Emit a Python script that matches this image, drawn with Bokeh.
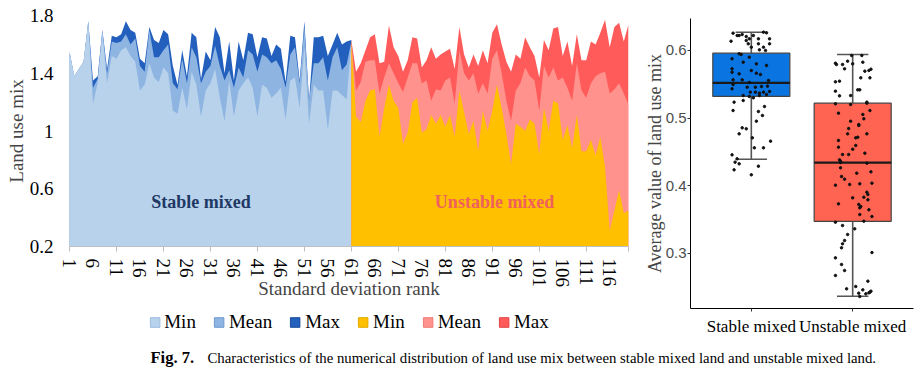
from bokeh.plotting import figure
from bokeh.layouts import row, column
from bokeh.models import FixedTicker, Legend, LegendItem, Label, Range1d
from bokeh.embed import file_html
from bokeh.resources import INLINE

SERIF = "Liberation Serif"
SANS = "Liberation Sans"
NAN = float("nan")

# ---------------- data: left area chart ----------------
rank = list(range(1, 121))
tick_ranks = list(range(1, 117, 5))

stable_max = [1.55, 1.38, 1.43, 1.48, 1.76, 1.35, 1.38, 1.70, 1.43, 1.66,
              1.65, 1.67, 1.76, 1.70, 1.68, 1.50, 1.47, 1.72, 1.63, 1.61,
              1.70, 1.67, 1.45, 1.32, 1.56, 1.38, 1.68, 1.65, 1.36, 1.55,
              1.49, 1.72, 1.65, 1.40, 1.62, 1.35, 1.62, 1.49, 1.68, 1.67,
              1.51, 1.65, 1.64, 1.52, 1.60, 1.57, 1.34, 1.66, 1.65, 1.35,
              1.76, 1.21, 1.65, 1.65, 1.66, 1.52, 1.60, 1.68, 1.60, 1.62]
stable_mean = [1.55, 1.38, 1.43, 1.48, 1.76, 1.30, 1.36, 1.70, 1.40, 1.62,
               1.61, 1.62, 1.67, 1.60, 1.64, 1.45, 1.41, 1.70, 1.51, 1.51,
               1.56, 1.60, 1.33, 1.29, 1.50, 1.33, 1.58, 1.51, 1.33, 1.41,
               1.45, 1.59, 1.45, 1.35, 1.42, 1.30, 1.44, 1.37, 1.56, 1.53,
               1.41, 1.53, 1.51, 1.47, 1.49, 1.43, 1.30, 1.53, 1.58, 1.33,
               1.72, 1.21, 1.47, 1.47, 1.51, 1.35, 1.51, 1.58, 1.42, 1.46]
stable_min = [1.55, 1.38, 1.43, 1.48, 1.76, 1.19, 1.33, 1.68, 1.33, 1.52,
              1.50, 1.56, 1.58, 1.52, 1.48, 1.28, 1.32, 1.47, 1.37, 1.34,
              1.44, 1.40, 1.14, 1.12, 1.30, 1.15, 1.41, 1.32, 1.10, 1.28,
              1.33, 1.43, 1.23, 1.07, 1.35, 1.10, 1.28, 1.33, 1.37, 1.30,
              1.10, 1.32, 1.30, 1.23, 1.26, 1.30, 1.08, 1.35, 1.37, 1.16,
              1.58, 1.05, 1.32, 1.28, 1.28, 1.01, 1.28, 1.28, 1.25, 1.22]

unstable_max = [1.63, 1.41, 1.47, 1.56, 1.65, 1.67, 1.47, 1.48, 1.73, 1.58,
                1.52, 1.41, 1.49, 1.65, 1.64, 1.44, 1.49, 1.58, 1.50, 1.53,
                1.55, 1.57, 1.43, 1.72, 1.53, 1.44, 1.53, 1.45, 1.56, 1.47,
                1.68, 1.74, 1.60, 1.48, 1.41, 1.53, 1.50, 1.65, 1.58, 1.52,
                1.37, 1.63, 1.56, 1.71, 1.72, 1.52, 1.62, 1.45, 1.67, 1.49,
                1.49, 1.62, 1.60, 1.68, 1.77, 1.58, 1.72, 1.75, 1.62, 1.74]
unstable_mean = [1.62, 1.28, 1.34, 1.48, 1.49, 1.49, 1.26, 1.37, 1.47, 1.40,
                 1.33, 1.27, 1.37, 1.47, 1.47, 1.33, 1.35, 1.21, 1.29, 1.28,
                 1.35, 1.37, 1.19, 1.56, 1.40, 1.35, 1.40, 1.26, 1.33, 1.26,
                 1.50, 1.56, 1.40, 1.21, 1.07, 1.28, 1.33, 1.44, 1.38, 1.35,
                 1.14, 1.45, 1.37, 1.44, 1.35, 1.37, 1.30, 1.21, 1.47, 1.28,
                 1.23, 1.33, 1.38, 1.40, 1.41, 1.26, 1.29, 1.33, 1.26, 1.18]
unstable_min = [1.62, 1.10, 1.06, 1.21, 1.28, 1.29, 0.96, 1.16, 1.32, 1.21,
                1.16, 0.91, 0.99, 1.20, 1.23, 0.99, 1.01, 1.11, 1.05, 1.11,
                1.03, 1.11, 0.96, 1.28, 1.13, 0.98, 1.07, 0.86, 1.14, 1.00,
                1.14, 1.32, 1.16, 0.98, 0.77, 1.05, 1.03, 1.00, 1.08, 1.05,
                0.84, 1.16, 1.00, 1.21, 1.19, 0.94, 1.04, 0.88, 1.11, 0.86,
                0.86, 0.94, 0.83, 0.96, 0.75, 0.31, 0.45, 0.59, 0.43, 0.45]

legend_labels = ["Min", "Mean", "Max", "Min", "Mean", "Max"]

# ---------------- data: right box plot ----------------
groups = ["Stable mixed", "Unstable mixed"]
group_pos = [1, 2]
box_q1 = [0.532, 0.347]
box_median = [0.552, 0.434]
box_q3 = [0.596, 0.522]
whisker_low = [0.439, 0.236]
whisker_high = [0.627, 0.594]

stable_pts = [0.6257, 0.6222, 0.6222, 0.6237, 0.6207, 0.6222, 0.6272, 0.6262, 0.6138, 0.6148,
              0.6173, 0.6173, 0.6173, 0.6099, 0.6099, 0.6099, 0.6049, 0.6049, 0.6010, 0.6000,
              0.5951, 0.5941, 0.5877, 0.5827, 0.5901, 0.5802, 0.5778, 0.5728, 0.5679, 0.5704,
              0.5654, 0.5664, 0.5644, 0.5565, 0.5565, 0.5526, 0.5556, 0.5496, 0.5457, 0.5457,
              0.5467, 0.5472, 0.5432, 0.5383, 0.5383, 0.5368, 0.5383, 0.5393, 0.5333, 0.5319,
              0.5333, 0.5348, 0.5299, 0.5235, 0.5259, 0.5170, 0.5111, 0.5096, 0.5037, 0.4953,
              0.4854, 0.4840, 0.4765, 0.4706, 0.4657, 0.4558, 0.4558, 0.4454, 0.4395, 0.4346,
              0.4321, 0.4286, 0.4232, 0.4158]
stable_jit = [-0.18, -0.14, -0.12, -0.09, -0.05, 0.02, 0.12, 0.15, -0.20, -0.05,
              -0.02, 0.07, 0.18, -0.03, 0.07, 0.18, 0.00, 0.12, 0.08, 0.14,
              -0.12, -0.10, -0.19, -0.08, -0.02, 0.05, 0.15, -0.19, -0.19, 0.00,
              -0.12, 0.05, 0.09, -0.09, -0.18, -0.02, 0.17, -0.18, -0.04, 0.04,
              0.10, 0.16, -0.19, -0.01, 0.04, 0.08, 0.12, 0.18, -0.08, -0.02,
              0.08, 0.15, 0.02, -0.17, -0.08, 0.13, -0.18, 0.07, 0.11, 0.05,
              -0.09, -0.05, -0.12, 0.01, 0.19, 0.03, 0.12, -0.19, -0.14, -0.16,
              -0.12, 0.07, -0.17, 0.00]

unstable_pts = [0.5926, 0.5926, 0.5812, 0.5793, 0.5793, 0.5842, 0.5802, 0.5827, 0.5728, 0.5694,
                0.5704, 0.5723, 0.5546, 0.5536, 0.5595, 0.5595, 0.5417, 0.5417, 0.5398, 0.5328,
                0.5333, 0.5210, 0.5200, 0.5220, 0.5235, 0.5111, 0.5072, 0.5052, 0.4988, 0.4953,
                0.4904, 0.4889, 0.4844, 0.4765, 0.4765, 0.4706, 0.4716, 0.4667, 0.4538, 0.4568,
                0.4593, 0.4479, 0.4459, 0.4459, 0.4380, 0.4360, 0.4341, 0.4331, 0.4262, 0.4183,
                0.4202, 0.4133, 0.4094, 0.4005, 0.4015, 0.4025, 0.4035, 0.3901, 0.3867, 0.3827,
                0.3817, 0.3788, 0.3719, 0.3669, 0.3728, 0.3689, 0.3640, 0.3570, 0.3541, 0.3472,
                0.3457, 0.3407, 0.3358, 0.3274, 0.3185, 0.3136, 0.3077, 0.3007, 0.2928, 0.2830,
                0.2741, 0.2667, 0.2583, 0.2469, 0.2504, 0.2454, 0.2405, 0.2395, 0.2410, 0.2420,
                0.2356, 0.2435]
unstable_jit = [-0.01, 0.09, -0.17, -0.16, -0.10, -0.05, 0.00, 0.10, -0.08, 0.12,
                0.16, 0.18, -0.13, -0.17, 0.08, 0.17, 0.05, 0.07, -0.17, -0.13,
                -0.02, -0.17, -0.02, 0.14, 0.14, 0.17, -0.14, 0.10, 0.11, -0.02,
                0.06, 0.06, -0.04, -0.05, 0.14, 0.03, 0.05, -0.14, 0.00, -0.14,
                0.03, 0.12, -0.10, -0.04, -0.13, -0.12, -0.12, 0.14, -0.12, 0.04,
                0.18, -0.11, -0.08, -0.17, -0.03, 0.07, 0.19, 0.14, 0.15, 0.11,
                0.00, 0.15, 0.06, 0.07, -0.14, 0.08, 0.16, 0.07, 0.19, 0.11,
                -0.17, -0.10, 0.02, -0.05, -0.08, -0.10, -0.11, 0.19, -0.17, -0.11,
                -0.08, -0.17, 0.15, -0.06, 0.03, 0.10, 0.06, 0.13, 0.16, 0.17,
                0.07, 0.18]

# ---------------- colours ----------------
area_colors = ["#B8D2EB", "#8EB4E2", "#2360BE", "#FFC000", "#FF928C", "#FF5B5B"]
swatch_lines = ["#9DBBE0", "#7099D0", "#1A4C9A", "#E0A800", "#F07A74", "#E04444"]
box_colors = ["#0A74E0", "#FF6452"]

# ---------------- left figure ----------------
left = figure(frame_width=559, frame_height=231, x_range=Range1d(1, 120), y_range=Range1d(0.2, 1.8),
              output_backend="svg", toolbar_location=None,
              min_border_left=69, min_border_right=12, min_border_top=15, min_border_bottom=60)
left.outline_line_color = None
left.xgrid.visible = False
left.ygrid.visible = False

n_st = len(stable_min)
x_st = rank[:n_st + 1]
x_un = rank[n_st:]

def ext(series, nxt):
    return series + [nxt[0]]

left.varea(x=x_st, y1=0.2, y2=ext(stable_max, unstable_max), fill_color=area_colors[2])
left.varea(x=x_st, y1=0.2, y2=ext(stable_mean, unstable_mean), fill_color=area_colors[1])
left.varea(x=x_st, y1=0.2, y2=ext(stable_min, unstable_min), fill_color=area_colors[0])
left.varea(x=x_un, y1=0.2, y2=unstable_max, fill_color=area_colors[5])
left.varea(x=x_un, y1=0.2, y2=unstable_mean, fill_color=area_colors[4])
left.varea(x=x_un, y1=0.2, y2=unstable_min, fill_color=area_colors[3])

left.add_layout(Label(x=29, y=0.51, text="Stable mixed", text_align="center", text_baseline="middle",
                      text_font=SERIF, text_font_style="bold", text_font_size="18px", text_color="#203864"))
left.add_layout(Label(x=91.5, y=0.51, text="Unstable mixed", text_align="center", text_baseline="middle",
                      text_font=SERIF, text_font_style="bold", text_font_size="18px", text_color="#F0605D"))

xa = left.xaxis[0]
xa.ticker = FixedTicker(ticks=tick_ranks, minor_ticks=list(range(1, 112, 10)) + [120])
xa.major_label_orientation = "vertical"
xa.major_tick_out = 0
xa.major_tick_in = 0
xa.minor_tick_out = 5
xa.minor_tick_in = 0
xa.minor_tick_line_color = "#BFBFBF"
xa.axis_line_color = "#BFBFBF"
xa.major_label_standoff = 7
xa.major_label_text_font = SERIF
xa.major_label_text_font_size = "19px"
xa.major_label_text_color = "#000000"
xa.axis_label = "Standard deviation rank"
xa.axis_label_text_font = SERIF
xa.axis_label_text_font_size = "19px"
xa.axis_label_text_font_style = "normal"
xa.axis_label_standoff = -12

ya = left.yaxis[0]
ya.ticker = FixedTicker(ticks=[0.2, 0.6, 1.0, 1.4, 1.8])
ya.major_label_overrides = {0.2: "0.2", 0.6: "0.6", 1.0: "1", 1.4: "1.4", 1.8: "1.8"}
ya.axis_line_color = None
ya.major_tick_out = 0
ya.major_tick_in = 0
ya.minor_tick_line_color = None
ya.major_label_standoff = 16
ya.major_label_text_font = SERIF
ya.major_label_text_font_size = "19px"
ya.major_label_text_color = "#000000"
ya.axis_label = "Land use mix"
ya.axis_label_text_font = SERIF
ya.axis_label_text_font_size = "19px"
ya.axis_label_text_font_style = "normal"
ya.axis_label_standoff = 0

# ---------------- legend strip under the left chart ----------------
leg = figure(frame_width=559, frame_height=32, x_range=Range1d(0, 1), y_range=Range1d(0, 1),
             output_backend="svg", toolbar_location=None,
             min_border_left=61, min_border_right=20, min_border_top=0, min_border_bottom=0)
leg.axis.visible = False
leg.xgrid.visible = False
leg.ygrid.visible = False
leg.outline_line_color = None
items = []
for lab, fc, lc in zip(legend_labels, area_colors, swatch_lines):
    # proxy renderer (no visible mark), used only for its legend swatch
    r = leg.quad(left=[NAN], right=[NAN], top=[NAN], bottom=[NAN],
                 fill_color=fc, line_color=lc, line_width=1)
    items.append(LegendItem(label=lab, renderers=[r]))
legend = Legend(items=items, orientation="horizontal", location="center")
legend.label_text_font = SERIF
legend.label_text_font_size = "19px"
legend.label_text_color = "#000000"
legend.glyph_width = 12
legend.glyph_height = 12
legend.label_standoff = 4
legend.spacing = 17
legend.padding = 0
legend.margin = 0
legend.label_height = 20
legend.border_line_color = None
legend.background_fill_alpha = 0
leg.add_layout(legend, "center")

# ---------------- right figure (box plot) ----------------
right = figure(frame_width=223, frame_height=290, x_range=Range1d(0.4, 2.6), y_range=Range1d(0.2178, 0.6474),
               output_backend="svg", toolbar_location=None,
               min_border_left=50, min_border_right=2, min_border_top=18, min_border_bottom=32)
right.outline_line_color = None
right.xgrid.visible = False
right.ygrid.visible = False

half_box = 0.38
half_cap = 0.155
right.segment(x0=group_pos, y0=box_q3, x1=group_pos, y1=whisker_high, line_color="#555555", line_width=1.6)
right.segment(x0=group_pos, y0=box_q1, x1=group_pos, y1=whisker_low, line_color="#555555", line_width=1.6)
right.segment(x0=[g - half_cap for g in group_pos], y0=whisker_high,
              x1=[g + half_cap for g in group_pos], y1=whisker_high, line_color="#555555", line_width=1.6)
right.segment(x0=[g - half_cap for g in group_pos], y0=whisker_low,
              x1=[g + half_cap for g in group_pos], y1=whisker_low, line_color="#555555", line_width=1.6)
right.vbar(x=group_pos, width=2 * half_box, bottom=box_q1, top=box_q3,
           fill_color=box_colors, line_color="#444444", line_width=1.2)
right.segment(x0=[g - half_box for g in group_pos], y0=box_median,
              x1=[g + half_box for g in group_pos], y1=box_median, line_color="#1A1A1A", line_width=2.2)

right.scatter(x=[group_pos[0] + d for d in stable_jit], y=stable_pts, size=2.5, color="#111111")
right.scatter(x=[group_pos[1] + d for d in unstable_jit], y=unstable_pts, size=2.5, color="#111111")

rx = right.xaxis[0]
rx.ticker = FixedTicker(ticks=group_pos)
rx.major_label_overrides = {1: groups[0], 2: groups[1]}
rx.axis_line_color = "#000000"
rx.major_tick_out = 3
rx.major_tick_in = 0
rx.major_tick_line_color = "#333333"
rx.minor_tick_line_color = None
rx.major_label_standoff = 5
rx.major_label_text_font = SERIF
rx.major_label_text_font_size = "17px"
rx.major_label_text_color = "#000000"

ry = right.yaxis[0]
ry.ticker = FixedTicker(ticks=[0.3, 0.4, 0.5, 0.6])
ry.axis_line_color = "#000000"
ry.major_tick_out = 3
ry.major_tick_in = 0
ry.major_tick_line_color = "#333333"
ry.minor_tick_line_color = None
ry.major_label_standoff = 1
ry.major_label_text_font = SANS
ry.major_label_text_font_size = "15px"
ry.major_label_text_color = "#4D4D4D"
ry.axis_label = "Average value of land use mix"
ry.axis_label_text_font = SERIF
ry.axis_label_text_font_size = "18px"
ry.axis_label_text_font_style = "normal"
ry.axis_label_standoff = -2

# ---------------- caption ----------------
cap = figure(frame_width=915, frame_height=30, x_range=Range1d(0, 915), y_range=Range1d(0, 30),
             output_backend="svg", toolbar_location=None, min_border=0)
cap.axis.visible = False
cap.xgrid.visible = False
cap.ygrid.visible = False
cap.outline_line_color = None
cap.add_layout(Label(x=150, y=13, text="Fig. 7.", text_baseline="middle",
                     text_font=SERIF, text_font_style="bold", text_font_size="16.5px", text_color="#000000"))
cap.add_layout(Label(x=207, y=13, text="Characteristics of the numerical distribution of land use mix between stable mixed land and unstable mixed land.",
                     text_baseline="middle", text_font=SERIF, text_font_size="14.8px", text_color="#000000"))

layout = column(row(column(left, leg), right), cap)
open("out.html", "w").write(file_html(layout, INLINE))
